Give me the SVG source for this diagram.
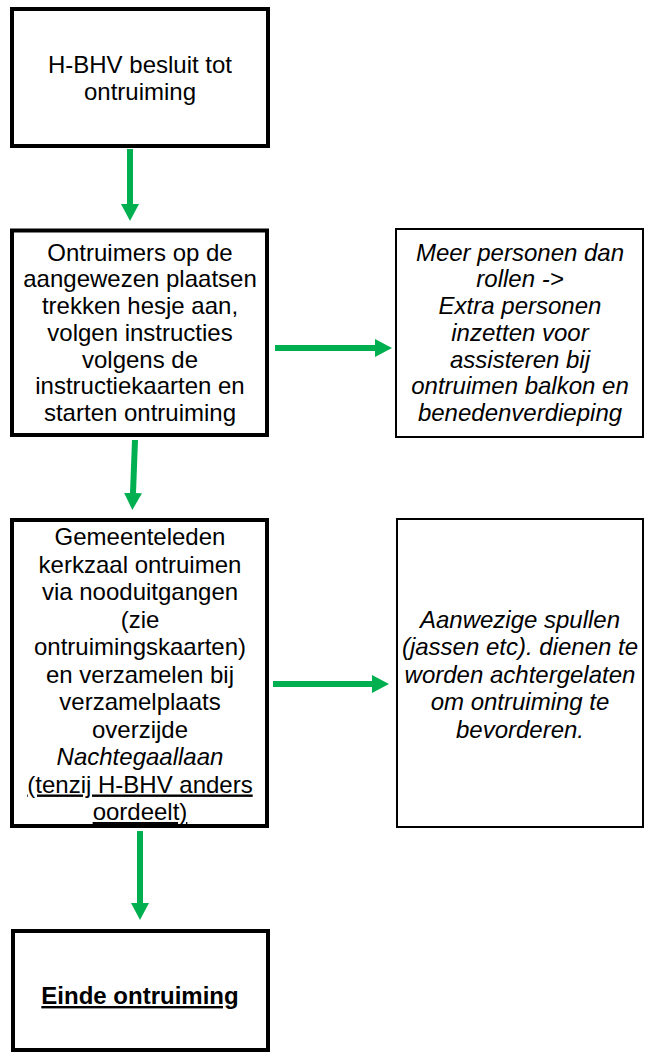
<svg xmlns="http://www.w3.org/2000/svg" width="646" height="1056" viewBox="0 0 646 1056">
<style>
.main{fill:#fff;stroke:#000;stroke-width:4}
.side{fill:#fff;stroke:#000;stroke-width:2}
text{font-family:"Liberation Sans",Arial,sans-serif;font-size:24px;fill:#000;text-anchor:middle}
.it{font-style:italic}
.u{text-decoration:underline}
.b{font-weight:bold}
.arr{stroke:#00B050;stroke-width:6;fill:none;marker-end:url(#ah)}
</style>
<defs>
<marker id="ah" markerUnits="userSpaceOnUse" markerWidth="17" markerHeight="18" refX="0" refY="9" orient="auto" viewBox="0 0 17 18">
<path d="M0,0 L17,9 L0,18 z" fill="#00B050"/>
</marker>
</defs>
<rect width="646" height="1056" fill="#fff"/>
<g id="connectors">
<line class="arr" x1="130" y1="149" x2="130" y2="204"/>
<line class="arr" x1="135" y1="440" x2="133" y2="493"/>
<line class="arr" x1="140" y1="831" x2="140" y2="903"/>
<line class="arr" x1="275" y1="348" x2="375" y2="348"/>
<line class="arr" x1="273" y1="684" x2="372" y2="684"/>
</g>
<g id="n1">
<rect class="main" x="12" y="9" width="256" height="137"/>
<text x="140" y="73">H-BHV besluit tot</text>
<text x="140" y="100">ontruiming</text>
</g>
<g id="n2">
<rect class="main" x="12" y="230.5" width="255" height="204.5"/>
<text x="140" y="260.7">Ontruimers op de</text>
<text x="140" y="287.4">aangewezen plaatsen</text>
<text x="140" y="314.1">trekken hesje aan,</text>
<text x="140" y="340.8">volgen instructies</text>
<text x="140" y="367.5">volgens de</text>
<text x="140" y="394.2">instructiekaarten en</text>
<text x="140" y="420.9">starten ontruiming</text>
</g>
<g id="r1">
<rect class="side" x="396" y="229" width="247" height="208"/>
<text class="it" x="520" y="260.7">Meer personen dan</text>
<text class="it" x="520" y="287.4">rollen -&gt;</text>
<text class="it" x="520" y="314.1">Extra personen</text>
<text class="it" x="520" y="340.8">inzetten voor</text>
<text class="it" x="520" y="367.5">assisteren bij</text>
<text class="it" x="520" y="394.2">ontruimen balkon en</text>
<text class="it" x="520" y="420.9">benedenverdieping</text>
</g>
<g id="n3">
<rect class="main" x="12" y="520" width="255" height="306"/>
<text x="140" y="545">Gemeenteleden</text>
<text x="140" y="572.5">kerkzaal ontruimen</text>
<text x="140" y="600">via nooduitgangen</text>
<text x="140" y="627.5">(zie</text>
<text x="140" y="655">ontruimingskaarten)</text>
<text x="140" y="682.5">en verzamelen bij</text>
<text x="140" y="710">verzamelplaats</text>
<text x="140" y="737.5">overzijde</text>
<text class="it" x="140" y="765">Nachtegaallaan</text>
<text class="u" x="140" y="792.5">(tenzij H-BHV anders</text>
<text class="u" x="140" y="820">oordeelt)</text>
</g>
<g id="r2">
<rect class="side" x="397" y="519" width="246" height="308"/>
<text class="it" x="520" y="627.5">Aanwezige spullen</text>
<text class="it" x="520" y="655">(jassen etc). dienen te</text>
<text class="it" x="520" y="682.5">worden achtergelaten</text>
<text class="it" x="520" y="710">om ontruiming te</text>
<text class="it" x="520" y="737.5">bevorderen.</text>
</g>
<g id="n4">
<rect class="main" x="13" y="931" width="255" height="119"/>
<text class="b u" x="140" y="1004">Einde ontruiming</text>
</g>
</svg>
